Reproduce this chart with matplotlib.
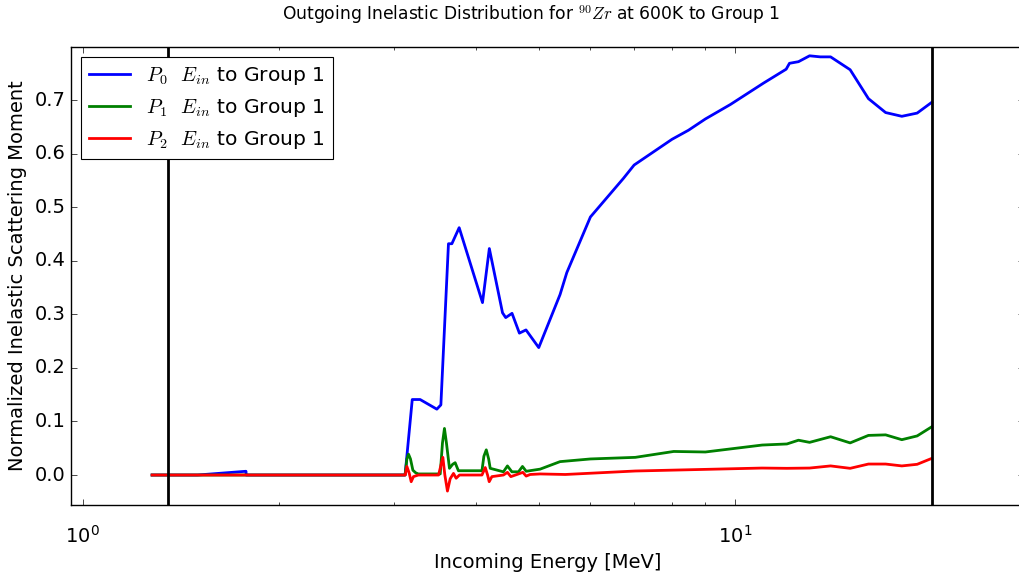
"""
Outgoing inelastic scattering moments for Zr-90 at 600K, group 1.
"""

import numpy as np
import matplotlib
matplotlib.use('Agg')
import matplotlib.pyplot as plt

plt.style.use('classic')
plt.rcParams['mathtext.fontset'] = 'cm'
plt.rcParams['font.family'] = ['DejaVu Sans']

# Incoming energy grid (MeV) and moments read for each Legendre order
e_p0 = [1.278, 1.50, 1.78, 1.781, 3.12, 3.20, 3.29, 3.49, 3.54, 3.636, 3.68,
        3.776, 4.10, 4.20, 4.40, 4.45, 4.55, 4.67, 4.78, 5.0, 5.39, 5.52,
        6.0, 6.74, 7.0, 8.0, 8.48, 9.0, 9.83, 11.05, 11.97, 12.11, 12.5,
        13.0, 13.5, 14.0, 15.0, 16.0, 17.0, 18.0, 19.0, 20.0]
p0 = [0.0, 0.0, 0.007, 0.0, 0.0, 0.141, 0.141, 0.123, 0.131, 0.432, 0.432,
      0.462, 0.322, 0.423, 0.303, 0.294, 0.302, 0.265, 0.271, 0.238, 0.337,
      0.378, 0.482, 0.554, 0.579, 0.627, 0.644, 0.665, 0.692, 0.732, 0.758,
      0.769, 0.772, 0.783, 0.781, 0.781, 0.757, 0.703, 0.677, 0.670, 0.676,
      0.696]

e_p1 = [1.278, 3.12, 3.14, 3.158, 3.18, 3.207, 3.24, 3.27, 3.532, 3.56,
        3.585, 3.61, 3.649, 3.69, 3.723, 3.766, 4.092, 4.12, 4.155, 4.19,
        4.213, 4.414, 4.477, 4.548, 4.655, 4.721, 4.783, 5.025, 5.39, 6.0,
        7.03, 8.05, 9.0, 11.0, 12.0, 12.5, 13.0, 14.0, 15.0, 16.0, 17.0,
        18.0, 19.0, 20.0]
p1 = [0.0, 0.0, 0.030, 0.039, 0.030, 0.009, 0.004, 0.002, 0.002, 0.060,
      0.087, 0.060, 0.0125, 0.020, 0.023, 0.008, 0.008, 0.035, 0.047, 0.030,
      0.0125, 0.006, 0.017, 0.006, 0.006, 0.016, 0.007, 0.011, 0.025, 0.030,
      0.033, 0.044, 0.043, 0.056, 0.058, 0.065, 0.061, 0.0715, 0.060, 0.074,
      0.075, 0.066, 0.073, 0.090]

e_p2 = [1.278, 3.122, 3.14, 3.165, 3.188, 3.214, 3.27, 3.511, 3.565, 3.59,
        3.623, 3.658, 3.701, 3.736, 3.78, 4.092, 4.14, 4.174, 4.198, 4.238,
        4.414, 4.477, 4.531, 4.655, 4.727, 4.783, 4.851, 5.025, 5.49, 7.03,
        10.99, 12.0, 13.0, 14.0, 15.0, 16.0, 17.0, 18.0, 19.0, 20.0]
p2 = [0.0, 0.0, 0.016, 0.004, -0.0125, -0.003, 0.0, 0.0, 0.033, 0.0,
      -0.030, -0.007, 0.003, -0.006, 0.0, 0.0, 0.014, 0.0, -0.0125, -0.003,
      0.0, 0.005, -0.003, 0.002, 0.005, -0.002, 0.001, 0.002, 0.001, 0.0075,
      0.013, 0.0125, 0.013, 0.017, 0.0125, 0.0205, 0.0205, 0.017, 0.020,
      0.031]

# group boundaries (MeV)
bounds = [1.35, 20.0]

fig = plt.figure(figsize=(10.19, 5.8), dpi=100)
fig.patch.set_facecolor('white')
ax = fig.add_axes([71 / 1019, 75 / 580, 953 / 1019, 458.3 / 580])

ax.semilogx(e_p0, p0, 'b-', linewidth=2, label='$P_0$  $E_{in}$ to Group 1')
ax.semilogx(e_p1, p1, 'g-', linewidth=2, label='$P_1$  $E_{in}$ to Group 1')
ax.semilogx(e_p2, p2, 'r-', linewidth=2, label='$P_2$  $E_{in}$ to Group 1')
for b in bounds:
    ax.axvline(b, color='k', linewidth=2)

ax.set_xlim(0.96, 27.7)
ax.set_ylim(-0.056, 0.8)
ax.set_yticks(np.arange(0.0, 0.75, 0.1))
ax.tick_params(axis='both', which='major', labelsize=14)
ax.tick_params(axis='x', which='major', pad=14)

ax.set_xlabel('Incoming Energy [MeV]', fontsize=14)
ax.set_ylabel('Normalized Inelastic Scattering Moment', fontsize=14)
fig.text(0.521, 0.995, 'Outgoing Inelastic Distribution for $^{90}Zr$ at 600K to Group 1',
         ha='center', va='top', fontsize=12.3)

leg = ax.legend(loc='upper left', fontsize=14.6, numpoints=1, handlelength=2.0)
leg.get_frame().set_linewidth(0.8)

fig.savefig('out.png', dpi=100, facecolor='white')
